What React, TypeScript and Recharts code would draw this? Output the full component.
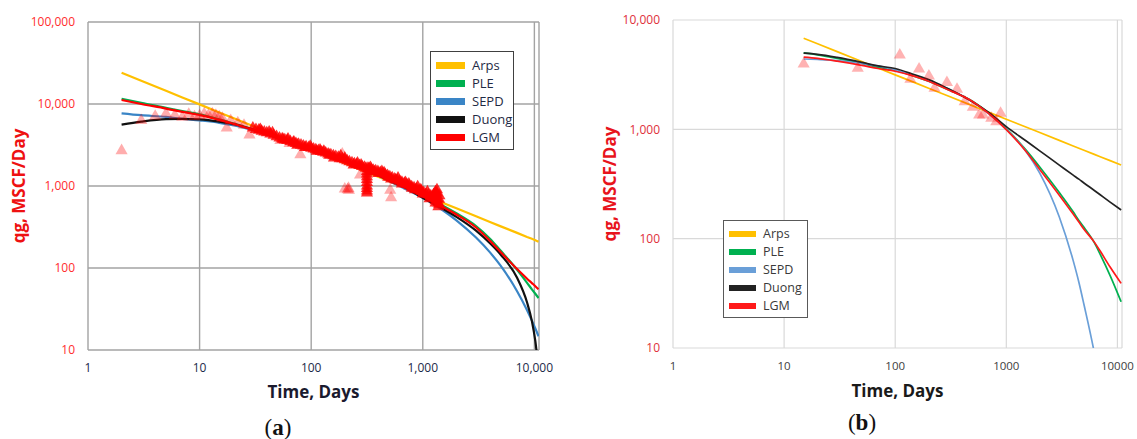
import React from 'react';
import { ComposedChart, Line, Scatter, XAxis, YAxis, CartesianGrid } from 'recharts';

const seriesNames = ['Arps', 'PLE', 'SEPD', 'Duong', 'LGM'];
const colorsA = ['#FFC000', '#00B050', '#3A85C6', '#111111', '#FF0000'];
const colorsB = ['#FFC000', '#00B050', '#6A9FD8', '#222222', '#FF1A1A'];

const xTicks = [1, 10, 100, 1000, 10000];
const yTicksA = [10, 100, 1000, 10000, 100000];
const yTicksB = [10, 100, 1000, 10000];

// Panel (a) model curves
const timesA = [2, 3, 5, 7, 10, 15, 20, 30, 50, 70, 100, 150, 200, 300, 500, 700, 1000, 1500, 2000, 3000, 4000, 5000, 7000, 8600, 9500, 10200, 10900];
const arpsA = [24000, 19200, 14500, 12000, 9900, 7900, 6750, 5400, 4100, 3390, 2780, 2220, 1900, 1517, 1146, 952, 782, 625, 534, 427, 364, 322, 268, 239, 227, 218, 209];
const pleA = [11600, 10300, 9000, 8200, 7500, 6500, 5800, 4900, 3900, 3350, 2850, 2350, 2050, 1650, 1200, 980, 760, 580, 465, 325, 228, 162, 95, 66, 55, 48.5, 43];
const sepdA = [7700, 7300, 6950, 6600, 6300, 5900, 5500, 4800, 3850, 3300, 2820, 2320, 2010, 1600, 1150, 920, 720, 510, 382, 235, 155, 106, 52, 30.5, 22.8, 18.3, 14.7];
const duongA = [5600, 6100, 6550, 6600, 6500, 6100, 5700, 4900, 3880, 3320, 2830, 2330, 2020, 1620, 1170, 950, 720, 530, 420, 285, 200, 145, 76, 38, 22.5, 12.8, 5.8];
const lgmA = [11200, 10000, 8800, 8000, 7350, 6400, 5750, 4850, 3880, 3330, 2840, 2340, 2040, 1640, 1190, 970, 750, 560, 450, 312, 215, 156, 97, 74, 65.5, 60, 55];

// Panel (a) observed rates: sparse points and dense band
const sparseA: [number, number][] = [
  [2, 2700], [3, 6300], [4, 7100], [5, 7600], [6, 7300], [7, 6900], [8, 7500], [9, 7000], [10, 7200],
  [11, 7600], [12, 7300], [13, 7600], [14, 7300], [15, 7000], [16, 6700], [17.5, 5100], [19, 6300],
  [22, 5900], [25, 5500], [28, 4200], [53, 3600], [64, 3300], [80, 2400], [190, 2450], [200, 920],
  [212, 900], [218, 890], [216, 935], [274, 1360], [511, 890], [520, 720],
];
const bandA: [number, number][] = [
  [30, 5100], [32, 4900], [34, 4800], [36, 4650], [38, 4550], [40, 4450], [43, 4300], [46, 4150], [49, 4000],
  [52, 3850], [55, 3780], [58, 3650], [61, 3600], [65, 3480], [69, 3380], [73, 3300], [77, 3220], [81, 3150],
  [85, 3080], [90, 3000], [95, 2950], [100, 2880], [105, 2820], [110, 2760], [116, 2700], [122, 2640],
  [128, 2580], [135, 2520], [142, 2460], [150, 2400], [158, 2340], [166, 2290], [175, 2240], [184, 2330],
  [190, 2150], [200, 2090], [210, 2030], [220, 1980], [232, 1920], [244, 1870], [256, 1830], [270, 1780],
  [285, 1730], [300, 1690], [310, 1650], [316, 1500], [316, 1400], [316, 1300], [316, 1200], [316, 1100],
  [316, 1000], [316, 930], [316, 870], [316, 820], [322, 1640],
  [330, 1640], [345, 1600], [360, 1560], [378, 1530], [396, 1500], [416, 1460], [437, 1420], [460, 1380],
  [483, 1340], [507, 1300], [532, 1260], [560, 1220], [590, 1180], [620, 1140], [650, 1110], [685, 1080],
  [720, 1040], [757, 1010], [795, 980], [835, 950], [880, 920], [925, 890], [970, 860], [1020, 830],
  [1070, 800], [1125, 780], [1180, 760], [1240, 740], [1300, 720], [1300, 850], [1300, 800], [1300, 660],
  [1300, 620], [1340, 900], [1340, 820], [1360, 700], [1380, 560], [1380, 620], [1400, 690], [1400, 600],
  [1410, 760],
  [45, 4450], [62, 3750], [75, 3150], [98, 3050], [112, 2650], [130, 2650], [160, 2200], [200, 2200],
  [240, 1800], [280, 1800], [340, 1680], [400, 1420], [450, 1450], [520, 1220], [600, 1250], [650, 1060],
  [750, 1060], [850, 900], [900, 980], [1000, 800], [1100, 850], [1150, 700], [1250, 790],
  [35, 4900], [42, 4550], [56, 3700], [70, 3450], [88, 2950], [120, 2750], [145, 2380], [180, 2150],
  [260, 1900], [370, 1480], [430, 1500], [490, 1280], [570, 1180], [700, 1100], [800, 940], [960, 900],
];

// Panel (b) model curves
const timesB = [15, 20, 30, 50, 70, 100, 150, 200, 300, 500, 700, 1000, 1500, 2000, 3000, 4000, 4500, 5000, 6200, 7000, 8600, 10800];
const arpsB = [6810, 6060, 5140, 4180, 3640, 3150, 2675, 2378, 2020, 1640, 1430, 1238, 1050, 935, 793, 705, 672, 644, 590, 561, 517, 472];
const pleB = [5000, 4800, 4450, 4000, 3700, 3450, 3050, 2750, 2300, 1800, 1400, 1014, 649, 453, 264, 176, 147, 127, 92, 72, 46, 26.5];
const sepdB = [4400, 4350, 4250, 4000, 3800, 3500, 3100, 2800, 2350, 1780, 1380, 1000, 631, 398, 158, 63, 40, 25, 9, 4.5, null, null];
const duongB = [4970, 4850, 4550, 4100, 3800, 3600, 3150, 2850, 2350, 1780, 1420, 1060, 786, 636, 471, 381, 350, 323, 276, 252, 216, 183];
const lgmB = [4570, 4450, 4200, 3850, 3600, 3400, 3050, 2750, 2300, 1790, 1385, 995, 630, 430, 250, 168, 142, 122, 93, 77, 55, 39];

// Panel (b) observed rates
const dataB: [number, number][] = [
  [15, 3960], [46, 3620], [110, 4790], [137, 2870], [164, 3570], [201, 3080], [226, 2380], [292, 2680],
  [360, 2330], [422, 1790], [500, 1590], [570, 1350], [617, 1350], [732, 1260], [812, 1175], [888, 1400],
];

const curvesA = [arpsA, pleA, sepdA, duongA, lgmA];
const curvesB = [arpsB, pleB, sepdB, duongB, lgmB];

const toPts = (times: number[], vals: (number | null)[]) => times.map((t, i) => ({ t, q: vals[i] }));
const pairPts = (arr: [number, number][]) => arr.map(([t, q]) => ({ t, q }));
const fmtComma = (v: number) => v.toLocaleString('en-US');

function LegendBox({ left, top, width, height, colors, swW, swH, textColor, border, gap, fontSize }: any) {
  return (
    <div style={{ position: 'absolute', left, top, width, height, boxSizing: 'border-box', border: `1.5px solid ${border}`, background: '#fff', paddingTop: 4, fontFamily: 'Open Sans', fontSize, color: textColor }}>
      {seriesNames.map((n, i) => (
        <div key={n} style={{ height: 18, display: 'flex', alignItems: 'center' }}>
          <div style={{ marginLeft: 5, width: swW, height: swH, background: colors[i] }} />
          <span style={{ marginLeft: gap, lineHeight: '18px' }}>{n}</span>
        </div>
      ))}
    </div>
  );
}

export default function App() {
  return (
    <div style={{ position: 'absolute', left: 0, top: 0, width: 1137, height: 439, background: '#fff', overflow: 'hidden' }}>
      <div style={{ position: 'absolute', left: 0, top: 0 }}>
        <ComposedChart width={560} height={439} margin={{ top: 22, right: 21, bottom: 59, left: 28 }} style={{ fontFamily: 'Open Sans' }}>
          <CartesianGrid stroke="#a3a3a3" strokeWidth={1.4} />
          <XAxis dataKey="t" type="number" scale="log" domain={[1, 11000]} ticks={xTicks} allowDataOverflow
            axisLine={false} tickLine={false} tickSize={0} tickMargin={13} height={30} interval={0}
            tickFormatter={fmtComma} tick={{ fill: '#1c2a48', fontSize: 12, fontFamily: 'Open Sans' }} />
          <YAxis type="number" scale="log" domain={[10, 100000]} ticks={yTicksA} allowDataOverflow
            axisLine={false} tickLine={false} tickSize={0} tickMargin={13} width={60} interval={0}
            tickFormatter={fmtComma} tick={{ fill: '#ff2d2d', fontSize: 12, fontFamily: 'Open Sans' }} />
          {curvesA.map((vals, i) => (
            <Line key={seriesNames[i]} name={seriesNames[i]} data={toPts(timesA, vals)} dataKey="q"
              type={i === 0 ? 'linear' : 'monotone'} stroke={colorsA[i]} strokeWidth={2.2} dot={false}
              isAnimationActive={false} />
          ))}
          <Scatter name="Data" data={pairPts(sparseA)} dataKey="q" shape="triangle" fill="#ff0000" fillOpacity={0.32} isAnimationActive={false} />
          <Scatter name="Data band" data={pairPts(bandA)} dataKey="q" shape="triangle" fill="#ff0000" fillOpacity={0.8} isAnimationActive={false} />
        </ComposedChart>
      </div>
      <div style={{ position: 'absolute', left: 560, top: 0 }}>
        <ComposedChart width={577} height={439} margin={{ top: 20, right: 15, bottom: 61, left: 53 }} style={{ fontFamily: 'Open Sans' }}>
          <CartesianGrid stroke="#d9d9d9" strokeWidth={1.2} />
          <XAxis dataKey="t" type="number" scale="log" domain={[1, 11000]} ticks={xTicks} allowDataOverflow
            axisLine={false} tickLine={false} tickSize={0} tickMargin={14} height={30} interval={0}
            tick={{ fill: '#404040', fontSize: 11.5, fontFamily: 'Open Sans' }} />
          <YAxis type="number" scale="log" domain={[10, 10000]} ticks={yTicksB} allowDataOverflow
            axisLine={false} tickLine={false} tickSize={0} tickMargin={13} width={60} interval={0}
            tickFormatter={fmtComma} tick={{ fill: '#e0303a', fontSize: 12, fontFamily: 'Open Sans' }} />
          <Scatter name="Data" data={pairPts(dataB)} dataKey="q" shape="triangle" fill="#ff0000" fillOpacity={0.3} isAnimationActive={false} />
          {curvesB.map((vals, i) => (
            <Line key={seriesNames[i]} name={seriesNames[i]} data={toPts(timesB, vals)} dataKey="q"
              type={i === 0 ? 'linear' : 'monotone'} stroke={colorsB[i]} strokeWidth={1.7} dot={false}
              isAnimationActive={false} />
          ))}
        </ComposedChart>
      </div>

      <LegendBox left={430} top={51} width={84} height={99} colors={colorsA} swW={29} swH={7} textColor="#1f2a44" border="#404040" gap={7} fontSize={13} />
      <LegendBox left={723} top={220} width={85} height={98} colors={colorsB} swW={27} swH={6} textColor="#3a3a3a" border="#595959" gap={7} fontSize={12.5} />

      <svg width={1137} height={439} style={{ position: 'absolute', left: 0, top: 0, pointerEvents: 'none' }}>
        <text x={18.5} y={186} transform="rotate(-90 18.5 186)" textAnchor="middle" dominantBaseline="central"
          fontFamily="Open Sans" fontWeight="bold" fontSize={17} fill="#ee1111">qg, MSCF/Day</text>
        <text x={609} y={184} transform="rotate(-90 609 184)" textAnchor="middle" dominantBaseline="central"
          fontFamily="Open Sans" fontWeight="bold" fontSize={17} fill="#e8141c">qg, MSCF/Day</text>
        <text x={313.5} y={391} textAnchor="middle" dominantBaseline="central" fontFamily="Open Sans" fontWeight="bold" fontSize={17} fill="#1a1a2e">Time, Days</text>
        <text x={897.5} y={390} textAnchor="middle" dominantBaseline="central" fontFamily="Open Sans" fontWeight="bold" fontSize={17} fill="#1a1a1a">Time, Days</text>
        <text x={278} y={427} textAnchor="middle" dominantBaseline="central" fontFamily="Liberation Serif" fontSize={23} fill="#111">(<tspan fontWeight="bold">a</tspan>)</text>
        <text x={862} y={422} textAnchor="middle" dominantBaseline="central" fontFamily="Liberation Serif" fontSize={23} fill="#111">(<tspan fontWeight="bold">b</tspan>)</text>
      </svg>
    </div>
  );
}
